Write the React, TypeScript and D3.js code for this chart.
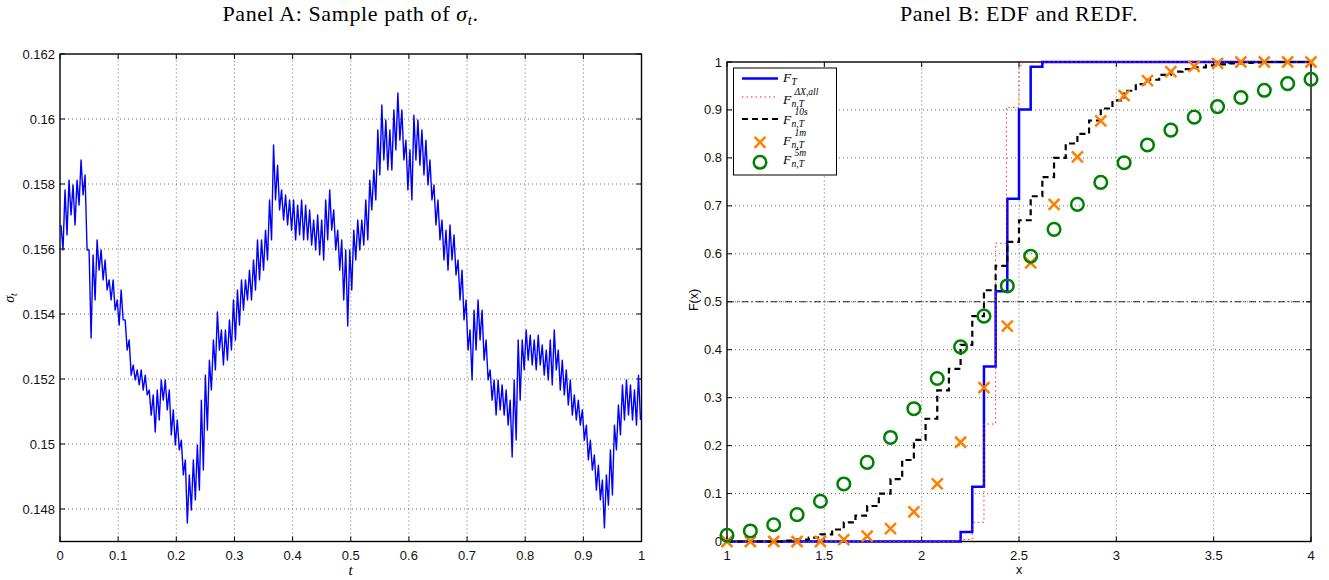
import React, { useEffect, useRef } from "react";
import * as d3 from "d3";

// ---- Panel A: sample path of sigma_t
// the trace is very dense, so it is kept as the top / bottom of the trace in 145 equal t-bins (values x1000)
const pathHi = [156.74, 157.82, 158.12, 157.97, 158.12, 158.74, 158.28, 155.97, 155.82, 156.28, 155.97, 155.66, 155.05, 155.05, 154.43, 154.74, 153.82, 153.2, 152.43, 152.28, 152.28, 152.12, 151.66, 151.51, 151.66, 151.97, 151.97, 151.66, 151.05, 150.74, 150.12, 149.51, 149.05, 149.51, 149.97, 151.35, 152.12, 152.58, 153.2, 154.06, 153.51, 153.51, 153.82, 154.43, 154.74, 155.05, 155.05, 155.35, 155.66, 156.28, 156.28, 156.58, 157.51, 159.2, 158.58, 157.82, 157.66, 157.51, 157.51, 157.35, 157.51, 157.35, 157.2, 156.89, 157.05, 156.89, 157.51, 157.82, 157.2, 156.58, 156.28, 155.97, 155.97, 156.58, 156.89, 156.89, 157.51, 158.12, 158.43, 159.66, 160.43, 159.97, 159.66, 160.28, 160.8, 160.28, 159.35, 159.05, 160.12, 159.97, 159.66, 159.35, 158.74, 157.97, 157.51, 156.89, 156.58, 156.74, 156.43, 155.66, 155.35, 154.43, 153.51, 154.12, 154.43, 154.12, 153.2, 152.28, 151.97, 151.97, 151.82, 151.66, 151.35, 151.97, 153.2, 153.2, 153.51, 153.35, 153.2, 153.35, 153.05, 152.89, 153.2, 153.51, 152.89, 152.58, 152.28, 151.97, 151.51, 151.35, 151.05, 150.58, 150.12, 149.66, 149.35, 148.89, 149.05, 149.82, 150.58, 151.2, 151.82, 151.97, 151.82, 151.66, 152.12];
const pathLo = [155.97, 156.43, 157.05, 156.74, 157.35, 157.66, 155.97, 153.26, 154.43, 155.35, 155.05, 154.74, 154.43, 154.12, 153.66, 153.82, 152.89, 152.12, 151.97, 151.82, 151.66, 151.51, 150.89, 150.37, 150.74, 151.35, 151.05, 150.28, 149.97, 149.82, 149.05, 147.57, 147.97, 148.28, 148.58, 149.2, 150.43, 151.66, 152.28, 152.89, 152.43, 152.58, 152.89, 153.2, 153.66, 154.12, 154.43, 154.43, 154.74, 155.05, 155.35, 155.66, 156.28, 157.51, 157.2, 156.89, 156.74, 156.58, 156.28, 156.43, 156.28, 156.28, 156.12, 155.97, 155.82, 155.66, 156.28, 156.58, 155.97, 155.35, 154.43, 153.63, 154.74, 155.66, 155.97, 156.12, 156.28, 157.2, 157.51, 158.28, 158.74, 158.43, 158.43, 159.05, 159.35, 158.74, 157.82, 157.51, 158.74, 158.58, 158.28, 157.97, 157.51, 156.74, 156.28, 155.66, 155.35, 155.66, 155.2, 154.43, 153.82, 152.89, 151.97, 152.89, 153.2, 152.58, 151.97, 151.35, 150.89, 151.05, 150.89, 150.58, 149.6, 150.12, 151.35, 152.28, 152.58, 152.43, 152.28, 152.43, 152.12, 151.97, 151.82, 152.28, 151.66, 151.51, 151.2, 150.89, 150.74, 150.58, 150.12, 149.51, 149.2, 148.58, 148.28, 147.42, 148.12, 148.43, 149.82, 150.28, 150.74, 150.89, 150.74, 150.58, 150.74];
const tTicks = [0, 0.1, 0.2, 0.3, 0.4, 0.5, 0.6, 0.7, 0.8, 0.9, 1];
const sigmaTicks = [0.148, 0.15, 0.152, 0.154, 0.156, 0.158, 0.16, 0.162];

// ---- Panel B: EDF and REDF
const markerX = [1, 1.12, 1.24, 1.36, 1.48, 1.6, 1.72, 1.84, 1.96, 2.08, 2.2, 2.32, 2.44, 2.56, 2.68, 2.8, 2.92, 3.04, 3.16, 3.28, 3.4, 3.52, 3.64, 3.76, 3.88, 4];
const edf1m = [0, 0, 0, 0, 0, 0.004, 0.011, 0.027, 0.062, 0.12, 0.207, 0.321, 0.449, 0.581, 0.703, 0.802, 0.877, 0.93, 0.961, 0.98, 0.991, 0.997, 1, 1, 1, 1];
const edf5m = [0.013, 0.022, 0.035, 0.056, 0.084, 0.12, 0.165, 0.217, 0.277, 0.34, 0.406, 0.47, 0.533, 0.595, 0.651, 0.703, 0.749, 0.79, 0.827, 0.858, 0.885, 0.907, 0.926, 0.941, 0.955, 0.964];
const trueX = [1, 2.2, 2.26, 2.32, 2.38, 2.44, 2.5, 2.56, 2.62, 4];
const trueF = [0, 0.02, 0.114, 0.365, 0.522, 0.715, 0.901, 0.99, 1, 1];
const allX = [1, 2.18, 2.26, 2.32, 2.38, 2.435, 2.5, 2.52, 4];
const allF = [0, 0.004, 0.04, 0.245, 0.622, 0.905, 0.993, 1, 1];
const tenX = [1, 1.3, 1.36, 1.42, 1.48, 1.54, 1.6, 1.66, 1.72, 1.78, 1.84, 1.9, 1.96, 2.02, 2.08, 2.14, 2.2, 2.26, 2.32, 2.38, 2.44, 2.5, 2.56, 2.62, 2.68, 2.74, 2.8, 2.86, 2.92, 2.98, 3.04, 3.1, 3.16, 3.22, 3.28, 3.34, 3.4, 3.46, 3.52, 3.58, 3.64, 3.7, 3.76, 4];
const tenF = [0, 0.002, 0.004, 0.008, 0.015, 0.025, 0.04, 0.054, 0.074, 0.1, 0.13, 0.17, 0.212, 0.256, 0.315, 0.36, 0.41, 0.47, 0.524, 0.575, 0.625, 0.67, 0.72, 0.76, 0.8, 0.83, 0.85, 0.878, 0.903, 0.92, 0.94, 0.954, 0.963, 0.973, 0.98, 0.985, 0.989, 0.993, 0.995, 0.997, 0.998, 0.999, 1, 1];
const xTicksB = [1, 1.5, 2, 2.5, 3, 3.5, 4];
const yTicksB = [0, 0.1, 0.2, 0.3, 0.4, 0.5, 0.6, 0.7, 0.8, 0.9, 1];

const SANS = "'Liberation Sans', Arial, sans-serif";
const SERIF = "'Liberation Serif', 'Times New Roman', serif";
const ORANGE = "#ff8000";
const GREEN = "#008000";

// matlab-like box axes: dotted grid, inward ticks on all four sides
function drawAxes(g, x, y, xTicks, yTicks, xFmt, yFmt) {
  const [x0, x1] = x.range();
  const [y0, y1] = y.range();
  const grid = g.append("g").attr("stroke", "#444").attr("stroke-width", 0.8).attr("stroke-dasharray", "1,3");
  xTicks.slice(1, -1).forEach((v) => grid.append("line").attr("x1", x(v)).attr("x2", x(v)).attr("y1", y0).attr("y2", y1));
  yTicks.forEach((v) => {
    if (Math.abs(y(v) - y0) < 1 || Math.abs(y(v) - y1) < 1) return;
    grid.append("line").attr("x1", x0).attr("x2", x1).attr("y1", y(v)).attr("y2", y(v));
  });
  const tk = g.append("g").attr("stroke", "#000").attr("stroke-width", 1);
  xTicks.forEach((v) => {
    tk.append("line").attr("x1", x(v)).attr("x2", x(v)).attr("y1", y0).attr("y2", y0 - 5);
    tk.append("line").attr("x1", x(v)).attr("x2", x(v)).attr("y1", y1).attr("y2", y1 + 5);
  });
  yTicks.forEach((v) => {
    tk.append("line").attr("x1", x0).attr("x2", x0 + 5).attr("y1", y(v)).attr("y2", y(v));
    tk.append("line").attr("x1", x1).attr("x2", x1 - 5).attr("y1", y(v)).attr("y2", y(v));
  });
  g.append("rect").attr("x", x0).attr("y", y1).attr("width", x1 - x0).attr("height", y0 - y1)
    .attr("fill", "none").attr("stroke", "#000").attr("stroke-width", 1.4);
  const lab = g.append("g").attr("font-family", SANS).attr("font-size", 13).attr("fill", "#111");
  xTicks.forEach((v) => lab.append("text").attr("x", x(v)).attr("y", y0 + 18).attr("text-anchor", "middle").text(xFmt(v)));
  yTicks.forEach((v) => lab.append("text").attr("x", x0 - 5).attr("y", y(v) + 4.5).attr("text-anchor", "end").text(yFmt(v)));
}

// F with stacked super/subscript, serif italic
function mathF(g, x, y, sup, sub) {
  g.append("text").attr("x", x).attr("y", y).attr("font-family", SERIF).attr("font-style", "italic").attr("font-size", 13.5).text("F");
  if (sup) g.append("text").attr("x", x + 11.5).attr("y", y - 8.5).attr("font-family", SERIF).attr("font-style", "italic").attr("font-size", 9.5).text(sup);
  if (sub) g.append("text").attr("x", x + 8.5).attr("y", y + 3).attr("font-family", SERIF).attr("font-style", "italic").attr("font-size", 9.5).text(sub);
}

export default function App() {
  const ref = useRef(null);

  useEffect(() => {
    const svg = d3.select(ref.current);
    svg.selectAll("*").remove();

    // ---------------- Panel A
    const xA = d3.scaleLinear().domain([0, 1]).range([60, 641.5]);
    const yA = d3.scaleLinear().domain([0.147, 0.162]).range([541.5, 54]);
    const gA = svg.append("g");
    drawAxes(gA, xA, yA, tTicks, sigmaTicks, (v) => String(v), (v) => String(+v.toFixed(3)));

    // trace: zigzag between the top and the bottom reading of each bin
    const n = pathHi.length;
    const dt = 1 / n;
    const pts = [];
    pathHi.forEach((hi, k) => {
      const tc = (k + 0.5) * dt;
      pts.push([tc - dt / 4, hi / 1000]);
      pts.push([tc + dt / 4, pathLo[k] / 1000]);
    });
    gA.append("path").datum(pts)
      .attr("d", d3.line().x((d) => xA(d[0])).y((d) => yA(d[1])))
      .attr("fill", "none").attr("stroke", "#0000ff").attr("stroke-width", 1.4).attr("stroke-linejoin", "round");

    svg.append("text").attr("x", 350.5).attr("y", 21).attr("text-anchor", "middle")
      .attr("font-family", SERIF).attr("font-size", 22).attr("letter-spacing", 0.6)
      .call((t) => {
        t.append("tspan").text("Panel A: Sample path of ");
        t.append("tspan").attr("font-style", "italic").text("σ");
        t.append("tspan").attr("font-style", "italic").attr("font-size", 15).attr("dy", 4).text("t");
        t.append("tspan").attr("dy", -4).text(".");
      });
    svg.append("text").attr("transform", "translate(14,298) rotate(-90)").attr("text-anchor", "middle")
      .attr("font-family", SERIF).attr("font-style", "italic").attr("font-size", 14)
      .call((t) => {
        t.append("tspan").text("σ");
        t.append("tspan").attr("font-size", 10).attr("dy", 3).text("t");
      });
    svg.append("text").attr("x", 350.5).attr("y", 575).attr("text-anchor", "middle")
      .attr("font-family", SERIF).attr("font-style", "italic").attr("font-size", 15).text("t");

    // ---------------- Panel B
    const xB = d3.scaleLinear().domain([1, 4]).range([727, 1311]);
    const yB = d3.scaleLinear().domain([0, 1]).range([541.5, 62]);
    const gB = svg.append("g");
    drawAxes(gB, xB, yB, xTicksB, yTicksB, (v) => String(v), (v) => String(v));

    gB.append("line").attr("x1", xB(1)).attr("x2", xB(4)).attr("y1", yB(0.5)).attr("y2", yB(0.5))
      .attr("stroke", "#222").attr("stroke-width", 1).attr("stroke-dasharray", "7,3,1.5,3");

    const step = d3.line().curve(d3.curveStepAfter).x((d) => xB(d[0])).y((d) => yB(d[1]));
    gB.append("path").datum(trueX.map((v, i) => [v, trueF[i]])).attr("d", step)
      .attr("fill", "none").attr("stroke", "#0000ff").attr("stroke-width", 2.5);
    gB.append("path").datum(allX.map((v, i) => [v, allF[i]])).attr("d", step)
      .attr("fill", "none").attr("stroke", "#ff2020").attr("stroke-width", 1).attr("stroke-dasharray", "1.5,3");
    gB.append("path").datum(tenX.map((v, i) => [v, tenF[i]])).attr("d", step)
      .attr("fill", "none").attr("stroke", "#000").attr("stroke-width", 2.2).attr("stroke-dasharray", "6,4");

    const cross = (g, cx, cy, r) => g.append("path")
      .attr("d", `M${cx - r},${cy - r}L${cx + r},${cy + r}M${cx - r},${cy + r}L${cx + r},${cy - r}`)
      .attr("stroke", ORANGE).attr("stroke-width", 2.5).attr("fill", "none");
    markerX.forEach((v, i) => cross(gB, xB(v), yB(edf1m[i]), 5.5));
    markerX.forEach((v, i) => gB.append("circle").attr("cx", xB(v)).attr("cy", yB(edf5m[i])).attr("r", 6.3)
      .attr("fill", "none").attr("stroke", GREEN).attr("stroke-width", 2.5));

    // legend
    const lg = gB.append("g");
    lg.append("rect").attr("x", 733.5).attr("y", 68).attr("width", 103).attr("height", 107)
      .attr("fill", "#fff").attr("stroke", "#000").attr("stroke-width", 1);
    lg.append("line").attr("x1", 742).attr("x2", 778).attr("y1", 78.5).attr("y2", 78.5).attr("stroke", "#0000ff").attr("stroke-width", 2.5);
    lg.append("line").attr("x1", 742).attr("x2", 778).attr("y1", 97).attr("y2", 97).attr("stroke", "#ff2020").attr("stroke-width", 1).attr("stroke-dasharray", "1.5,3");
    lg.append("line").attr("x1", 742).attr("x2", 778).attr("y1", 119).attr("y2", 119).attr("stroke", "#000").attr("stroke-width", 2.2).attr("stroke-dasharray", "6,4");
    cross(lg, 760, 142.3, 5.5);
    lg.append("circle").attr("cx", 760).attr("cy", 162.3).attr("r", 6.3).attr("fill", "none").attr("stroke", GREEN).attr("stroke-width", 2.5);
    mathF(lg, 783, 82, null, "T");
    mathF(lg, 783, 103.5, "ΔX,all", "n,T");
    mathF(lg, 783, 123.5, "10s", "n,T");
    mathF(lg, 783, 144.5, "1m", "n,T");
    mathF(lg, 783, 164, "5m", "n,T");

    svg.append("text").attr("x", 1019).attr("y", 21).attr("text-anchor", "middle")
      .attr("font-family", SERIF).attr("font-size", 22).attr("letter-spacing", 0.6).text("Panel B: EDF and REDF.");
    svg.append("text").attr("transform", "translate(698,300) rotate(-90)").attr("text-anchor", "middle")
      .attr("font-family", SANS).attr("font-size", 12.5).text("F(x)");
    svg.append("text").attr("x", 1019).attr("y", 574).attr("text-anchor", "middle")
      .attr("font-family", SANS).attr("font-size", 12.5).text("x");
  }, []);

  return <svg ref={ref} width={1329} height={580} style={{ position: "absolute", left: 0, top: 0, background: "#fff" }} />;
}
